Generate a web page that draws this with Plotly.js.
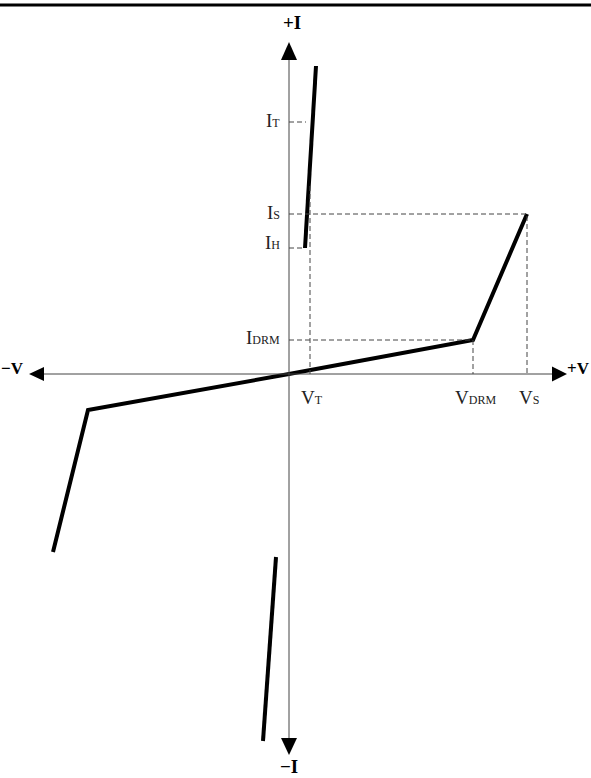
<!DOCTYPE html>
<html>
<head>
<meta charset="utf-8">
<script src="https://cdn.plot.ly/plotly-3.0.1.min.js"></script>
<style>html,body{margin:0;padding:0;background:#fff;}#chart{width:591px;height:778px;}</style>
</head>
<body>
<div id="chart"></div>
<script>
// Characteristic curve values (V rightwards, I upwards, origin at 0,0)
const mainV = [-236, -201, 0, 184, 238];
const mainI = [-178, -36, 0, 34, 160];
const onStateV = [16, 27];
const onStateI = [126, 308];
const negOnV = [-26, -13];
const negOnI = [-367, -183];

// Reference levels
const V_T = 21, V_DRM = 184, V_S = 238;
const I_T = 252, I_S = 160, I_H = 126, I_DRM = 34;
const I_T_end = 17, I_H_end = 16, V_T_top = 188;

// Labels
const currentLabels = ['I<span style="font-size:12px">T</span>', 'I<span style="font-size:12px">S</span>',
                       'I<span style="font-size:12px">H</span>', 'I<span style="font-size:12px">DRM</span>'];
const currentLabelY = [I_T + 2, I_S + 2, I_H + 6, I_DRM + 3];
const voltageLabels = ['V<span style="font-size:12px">T</span>', 'V<span style="font-size:12px">DRM</span>',
                       'V<span style="font-size:12px">S</span>'];
const voltageLabelX = [V_T + 2, V_DRM + 2, V_S + 2];

const dashStyle = {color: '#444', width: 1, dash: '5px,3px'};
const thick = {color: '#000', width: 4};

const traces = [
  {x: mainV, y: mainI, mode: 'lines', line: thick},
  {x: onStateV, y: onStateI, mode: 'lines', line: thick},
  {x: negOnV, y: negOnI, mode: 'lines', line: thick},
  // dashed guides
  {x: [0, I_T_end], y: [I_T, I_T], mode: 'lines', line: dashStyle},
  {x: [0, V_S, V_S], y: [I_S, I_S, 0], mode: 'lines', line: dashStyle},
  {x: [0, I_H_end], y: [I_H, I_H], mode: 'lines', line: dashStyle},
  {x: [0, V_DRM, V_DRM], y: [I_DRM, I_DRM, 0], mode: 'lines', line: dashStyle},
  {x: [V_T, V_T], y: [V_T_top, 0], mode: 'lines', line: dashStyle}
];

const labelFont = {family: 'Liberation Serif, DejaVu Serif, serif', size: 19, color: '#222'};
const annotations = [];
currentLabels.forEach((t, i) => annotations.push({
  x: -7, y: currentLabelY[i], xref: 'x', yref: 'y', text: t, showarrow: false,
  xanchor: 'right', yanchor: 'middle', font: labelFont
}));
voltageLabels.forEach((t, i) => annotations.push({
  x: voltageLabelX[i], y: -23, xref: 'x', yref: 'y', text: t, showarrow: false,
  xanchor: 'center', yanchor: 'middle', font: labelFont
}));
const axisFont = {family: 'Liberation Serif, DejaVu Serif, serif', size: 19, color: '#000'};
const sideFont = {family: 'Liberation Serif, DejaVu Serif, serif', size: 17, color: '#000'};
annotations.push({x: 3, y: 352, xref: 'x', yref: 'y', text: '<b>+I</b>', showarrow: false, font: axisFont, xanchor: 'center', yanchor: 'middle'});
annotations.push({x: 0, y: -392, xref: 'x', yref: 'y', text: '<b>−I</b>', showarrow: false, font: axisFont, xanchor: 'center', yanchor: 'middle', borderpad: 0});
annotations.push({x: 0, y: 6, xref: 'paper', yref: 'y', text: '<b>−V</b>', showarrow: false, font: sideFont, xanchor: 'left', yanchor: 'middle', borderpad: 0});
annotations.push({x: 1, y: 6, xref: 'paper', yref: 'y', text: '<b>+V</b>', showarrow: false, font: sideFont, xanchor: 'right', yanchor: 'middle', borderpad: 0});

const axLine = {color: '#444', width: 1};
const shapes = [
  {type: 'line', xref: 'paper', yref: 'paper', x0: 0, x1: 1, y0: 1 - 5 / 778, y1: 1 - 5 / 778, line: {color: '#000', width: 3}},
  {type: 'line', xref: 'x', yref: 'y', x0: -250, x1: 265, y0: 0, y1: 0, line: axLine},
  {type: 'line', xref: 'x', yref: 'y', x0: 0, x1: 0, y0: -366, y1: 318, line: axLine},
  {type: 'path', xref: 'x', yref: 'y', path: 'M -260 0 L -245 7 L -245 -7 Z', fillcolor: '#000', line: {width: 0}},
  {type: 'path', xref: 'x', yref: 'y', path: 'M 278 0 L 263 7.5 L 263 -7.5 Z', fillcolor: '#000', line: {width: 0}},
  {type: 'path', xref: 'x', yref: 'y', path: 'M 0 332 L 8 314 L -8 314 Z', fillcolor: '#000', line: {width: 0}},
  {type: 'path', xref: 'x', yref: 'y', path: 'M 0 -381 L 8 -364 L -8 -364 Z', fillcolor: '#000', line: {width: 0}}
];

const hidden = {visible: false, showgrid: false, zeroline: false, fixedrange: true};
const layout = {
  width: 591, height: 778, autosize: false,
  margin: {l: 0, r: 0, t: 0, b: 0, pad: 0},
  paper_bgcolor: '#fff', plot_bgcolor: '#fff',
  showlegend: false,
  xaxis: Object.assign({range: [-289, 302]}, hidden),
  yaxis: Object.assign({range: [-404, 374]}, hidden),
  shapes: shapes,
  annotations: annotations
};
Plotly.newPlot('chart', traces, layout, {staticPlot: true, displayModeBar: false});
</script>
</body>
</html>
